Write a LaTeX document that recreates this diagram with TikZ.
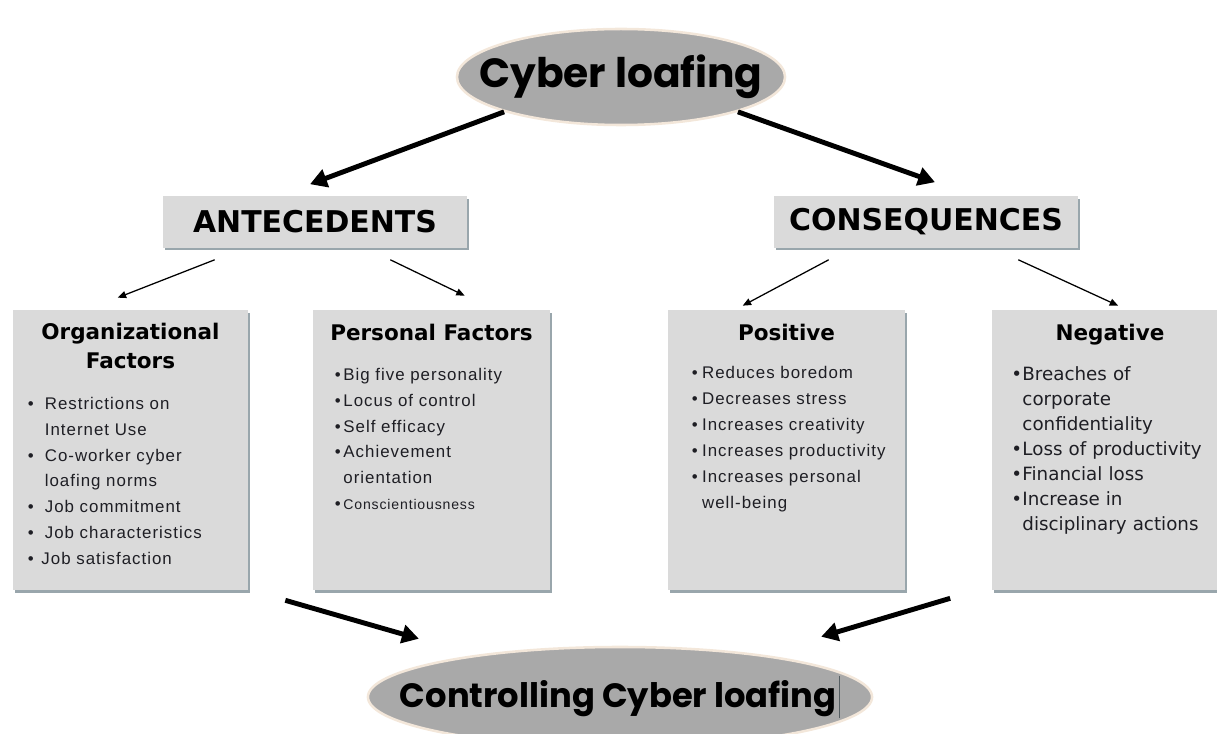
\documentclass[tikz,border=0pt]{standalone}
\usepackage{fontspec}
\setmainfont{Liberation Sans}
\newfontfamily\headfont{DejaVu Sans}
\newfontfamily\listfont{Liberation Sans}[LetterSpace=6]
\newfontfamily\negfont{DejaVu Sans}
\newfontfamily\ovalfont{Poppins}
\usetikzlibrary{arrows.meta, calc, positioning, shapes.geometric, shadows}
\definecolor{ovalgray}{HTML}{A9A9A9}
\definecolor{ovalrim}{HTML}{F3E7DA}
\definecolor{boxgray}{HTML}{DADADA}
\definecolor{shadegray}{HTML}{8E9CA3}
\definecolor{inkgray}{HTML}{1E1E24}
\newcommand{\bitem}[2][0.6em]{\par\hangindent=#1\hangafter=1\noindent\makebox[#1][l]{\textbullet}#2\par}
\tikzset{
  oval/.style     ={ellipse, draw=ovalrim, fill=ovalgray, line width=1.8pt, inner sep=0pt},
  ovaltext/.style ={inner sep=0pt, text=black, font=\ovalfont\bfseries},
  headbox/.style  ={draw=none, fill=boxgray, minimum width=7.6cm, minimum height=1.275cm, inner sep=0pt,
                    drop shadow={shadow xshift=0.05cm, shadow yshift=-0.06cm, fill=shadegray, opacity=0.9},
                    font=\headfont\bfseries\fontsize{21.3}{24}\selectfont},
  factbox/.style  ={draw=none, fill=boxgray, minimum width=5.875cm, minimum height=7cm, inner sep=0pt,
                    drop shadow={shadow xshift=0.05cm, shadow yshift=-0.07cm, fill=shadegray, opacity=0.9}},
  facttitle/.style={inner sep=0pt, align=center, font=\headfont\bfseries\fontsize{15.3}{20.5}\selectfont},
  factlist/.style ={inner sep=0pt, anchor=north west, text width=5.3cm, align=left, text=inkgray,
                    font=\listfont\fontsize{12}{18.3}\selectfont},
  bigarrow/.style ={-{Triangle[length=12pt, width=13pt]}, line width=3.5pt},
  thinarrow/.style={-{Triangle[length=6pt, width=5pt]}, line width=0.9pt},
}
\begin{document}
\begin{tikzpicture}[x=0.025cm, y=-0.025cm]
  \useasboundingbox (0,0) rectangle (1217,734);
  % top and bottom ovals
  \node[oval, minimum width=8.2cm, minimum height=2.4cm] (cyber) at (621,77) {};
  \node[ovaltext, font=\ovalfont\bfseries\fontsize{29}{32}\selectfont] (cyberT) at (cyber) {Cyber loafing};
  \node[oval, minimum width=12.6cm, minimum height=2.5cm] (ctrl) at (620,697) {};
  \node[ovaltext, font=\ovalfont\bfseries\fontsize{24}{28}\selectfont] (ctrlT) at (ctrl)
    {Controlling Cyber loafing\kern2pt{\color{shadegray!60!black}\rule[-0.3em]{0.6pt}{1.25em}}};
  % two headings
  \node[headbox] (ante) at (315,222) {ANTECEDENTS};
  \node[headbox] (cons) at (926,222) {CONSEQUENCES};
  % four boxes
  \node[factbox] (org) at (130.5,450) {};
  \node[factbox, minimum width=5.925cm] (pers) at (431.5,450) {};
  \node[factbox, minimum width=5.925cm] (pos) at (786.5,450) {};
  \node[factbox] (neg) at (1110,450) {};
  \node[facttitle, below=0.33cm of org.north] (orgT) {Organizational\\Factors};
  \node[facttitle, below=0.35cm of pers.north] (persT) {Personal Factors};
  \node[facttitle, below=0.35cm of pos.north] (posT) {Positive};
  \node[facttitle, below=0.35cm of neg.north] (negT) {Negative};
  \node[factlist, font=\listfont\fontsize{12}{18.3}\selectfont] (orgL) at ([shift={(15,74)}]org.north west) {%
    \bitem[1.0em]{Restrictions on\newline Internet Use}
    \bitem[1.0em]{Co-worker cyber\newline loafing norms}
    \bitem[1.0em]{Job commitment}
    \bitem[1.0em]{Job characteristics}
    \bitem[0.8em]{Job satisfaction}};
  \node[factlist] (persL) at ([shift={(22,45)}]pers.north west) {%
    \bitem[0.5em]{Big five personality}
    \bitem[0.5em]{Locus of control}
    \bitem[0.5em]{Self efficacy}
    \bitem[0.5em]{Achievement\newline orientation}
    \bitem[0.5em]{\fontsize{10}{18.3}\selectfont\strut Conscientiousness}};
  \node[factlist, font=\listfont\fontsize{12}{18.6}\selectfont] (posL) at ([shift={(24,42)}]pos.north west) {%
    \bitem{Reduces boredom}
    \bitem{Decreases stress}
    \bitem{Increases creativity}
    \bitem{Increases productivity}
    \bitem{Increases personal\newline well-being}};
  \node[factlist, font=\negfont\fontsize{13}{17.7}\selectfont] (negL) at ([shift={(19,46)}]neg.north west) {%
    \bitem{Breaches of\newline corporate\newline confidentiality}
    \bitem{Loss of productivity}
    \bitem{Financial loss}
    \bitem{Increase in\newline disciplinary actions}};
  % connectors
  \draw[bigarrow] (cyber.south west) -- ([shift={(-5,-12)}]ante.north);
  \draw[bigarrow] (cyber.south east) -- ([shift={(9,-14)}]cons.north);
  \draw[thinarrow] ([shift={(52,12)}]ante.south west) -- ([shift={(105,-12)}]org.north west);
  \draw[thinarrow] ([shift={(-77,12)}]ante.south east) -- ([shift={(152,-14)}]pers.north west);
  \draw[thinarrow] ([shift={(55,12)}]cons.south west) -- ([shift={(75,-4)}]pos.north west);
  \draw[thinarrow] ([shift={(-60,12)}]cons.south east) -- ([shift={(126,-4)}]neg.north west);
  \draw[bigarrow] ([shift={(37,10)}]org.south east) -- ([shift={(-22,-22)}]ctrl.north west);
  \draw[bigarrow] ([shift={(-42,8)}]neg.south west) -- ([shift={(22,-24)}]ctrl.north east);
\end{tikzpicture}
\end{document}
